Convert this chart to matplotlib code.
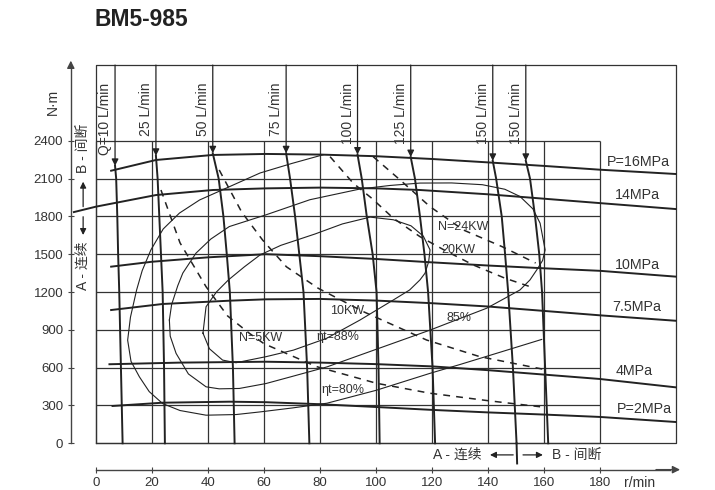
import matplotlib.pyplot as plt

plt.rcParams['font.family'] = ['Liberation Sans', 'Noto Sans CJK SC', 'DejaVu Sans']

ink = '#222222'
txt = '#333333'

title = "BM5-985"
speed_ticks = [0, 20, 40, 60, 80, 100, 120, 140, 160, 180]
torque_ticks = [0, 300, 600, 900, 1200, 1500, 1800, 2100, 2400]
box_right = 207
box_top = 3000

# --- constant pressure lines (r/min, N.m) ---
p16_n = [5.4, 21.4, 41.7, 60.7, 80, 100, 120, 140, 160, 180, 207]
p16_t = [2162, 2247, 2287, 2295, 2290, 2277, 2255, 2228, 2200, 2170, 2136]
p14_n = [-7.9, 0, 21.4, 41.7, 60.7, 80, 100, 115.7, 140, 160, 180, 207]
p14_t = [1834, 1877, 1969, 2009, 2022, 2028, 2022, 2009, 1975, 1940, 1905, 1858]
p10_n = [5.4, 20, 40, 60.7, 80, 100, 119.3, 140, 160, 180, 207]
p10_t = [1401, 1440, 1475, 1500, 1484, 1462, 1436, 1410, 1388, 1368, 1322]
p75_n = [5.4, 23.8, 47.6, 60.7, 80, 100, 119.3, 140, 160, 180, 207]
p75_t = [1057, 1105, 1131, 1142, 1145, 1132, 1112, 1085, 1050, 1015, 972]
p4_n = [4.8, 30, 60.7, 80, 100, 120, 140, 160, 180, 207]
p4_t = [627, 640, 647, 640, 628, 610, 580, 545, 510, 444]
p2_n = [5.9, 23.8, 47.6, 60.7, 80, 100, 120, 140, 160, 180, 207]
p2_t = [296, 322, 330, 326, 310, 288, 265, 245, 228, 209, 169]

pressure_labels = ["P=16MPa", "14MPa", "10MPa", "7.5MPa", "4MPa", "P=2MPa"]
pressure_label_n = [193.7, 193.4, 193.4, 193.0, 192.3, 195.7]
pressure_label_t = [2231, 1971, 1415, 1083, 575, 276]

# --- flow lines: speed at tip torque, then at the fixed torque levels ---
flow_labels = ["Q=10 L/min", "25 L/min", "50 L/min", "75 L/min",
               "100 L/min", "125 L/min", "150 L/min", "150 L/min"]
flow_tip = [2200, 2280, 2300, 2300, 2290, 2270, 2240, 2240]
flow_levels = [2100, 1800, 1500, 1200, 600, 0]
flow_speeds = [
    [6.8, 7.2, 7.6, 7.9, 8.3, 8.9, 9.5],
    [21.4, 22.0, 22.6, 23.2, 23.8, 24.3, 24.6],
    [41.7, 43.8, 45.5, 46.7, 47.8, 48.9, 49.5],
    [67.9, 69.3, 71.1, 72.6, 74.1, 75.4, 76.2],
    [93.4, 94.9, 96.7, 98.8, 100.2, 100.9, 101.3],
    [112.4, 113.9, 115.7, 117.3, 118.6, 120.2, 121.1],
    [141.7, 142.9, 144.9, 146.1, 147.2, 148.9, 150.2],
    [153.5, 155.0, 156.8, 158.3, 159.3, 160.4, 161.5],
]

# --- constant power lines (dashed) ---
kw5_n = [23.2, 30.0, 39.3, 47.0, 54.8, 60.0, 78.8, 100.2, 119.3, 140.0, 158.6]
kw5_t = [2009, 1590, 1242, 1010, 872, 790, 608, 476, 397, 338, 290]
kw10_n = [44.0, 52.0, 59.5, 68.0, 79.4, 95.5, 118.1, 137.1, 159.8]
kw10_t = [2168, 1835, 1612, 1400, 1229, 1044, 819, 687, 587]
kw20_n = [83.6, 91.9, 98.5, 106.2, 115.7, 125.0, 134.8, 146.0, 156.0]
kw20_t = [2273, 2062, 1943, 1785, 1639, 1525, 1414, 1310, 1235]
kw24_n = [99.0, 108.6, 119.3, 131.2, 145.0, 157.0]
kw24_t = [2273, 2089, 1877, 1692, 1560, 1430]

# --- total efficiency contours ---
eff88_n = [38.2, 39.3, 43, 47.3, 53, 58.6, 66, 78.2, 88, 97.9, 106.2, 112.5, 116.9,
           119.3, 118.8, 117.5, 115.7, 112, 106.2, 94.3, 82.4, 70.5, 60.7, 50, 45.2,
           40.5, 38.2]
eff88_t = [874, 1083, 1200, 1296, 1400, 1494, 1570, 1660, 1740, 1794, 1773, 1725, 1643,
           1534, 1440, 1349, 1296, 1216, 1137, 978, 833, 739, 687, 639, 660,
           750, 874]
eff85_n = [26.2, 27, 29.2, 31, 35.7, 41, 47.6, 60.7, 76.4, 94.3, 105, 115.7, 127, 138,
           146, 151.4, 156, 158.6, 160.4, 159.5, 157.4, 155, 151.4, 146, 139.5, 130,
           119.3, 100, 82.5, 70, 60.7, 51.2, 44, 39.3, 33, 28.6, 26.5, 26.2]
eff85_t = [978, 1100, 1250, 1350, 1508, 1620, 1719, 1812, 1932, 2017, 2045, 2064, 2065,
           2051, 2015, 1958, 1860, 1746, 1534, 1450, 1375, 1296, 1216, 1150, 1071, 990,
           898, 745, 606, 530, 474, 435, 432, 448, 550, 713, 850, 978]
eff80_n = [81.2, 70, 58.6, 45.2, 37, 29.8, 24, 19.6, 16.5, 14.5, 12.3, 11.3, 12.5, 15.5,
           19, 23.8, 30, 39.3, 50, 58.6, 70, 82.5, 100, 119.3, 130, 145, 159.2]
eff80_t = [2289, 2220, 2144, 2011, 1930, 1826, 1700, 1534, 1370, 1216, 1000, 818, 650,
           527, 410, 315, 260, 223, 228, 249, 280, 318, 420, 555, 625, 727, 824]

fig = plt.figure(figsize=(7.15, 4.9), dpi=100)
ax = fig.add_axes([0, 0, 1, 1])
ax.set_xlim(-34.29, 221.07)
ax.set_ylim(-370.4, 3516)

# offset axes with arrows
for s in ['top', 'right']:
    ax.spines[s].set_visible(False)
ax.spines['left'].set_position(('data', -9.0))
ax.spines['left'].set_bounds(0, 3000)
ax.spines['bottom'].set_position(('data', -209))
ax.spines['bottom'].set_bounds(0, 205)
for s in ['left', 'bottom']:
    ax.spines[s].set_color('#444444')
    ax.spines[s].set_linewidth(1.0)
ax.set_xticks(speed_ticks)
ax.set_yticks(torque_ticks)
ax.tick_params(direction='inout', length=5, width=0.8, colors='#444444',
               labelcolor=txt, labelsize=9.5)
ax.tick_params(axis='y', pad=3)
ax.tick_params(axis='x', pad=3)
arrow_kw = dict(arrowstyle='-|>', color='#444444', lw=1.0, mutation_scale=11,
                shrinkA=0, shrinkB=0)
ax.annotate('', xy=(-9.0, 3035), xytext=(-9.0, 2980), arrowprops=arrow_kw)
ax.annotate('', xy=(208.6, -209), xytext=(200, -209), arrowprops=arrow_kw)
ax.text(-15.4, 2707, "N·m", rotation=90, ha='center', va='center', fontsize=10, color=txt)
ax.text(194.3, -318, "r/min", ha='center', va='center', fontsize=10, color=txt)

ax.text(-0.4, 3365, title, ha='left', va='center', fontsize=16.5,
        fontweight='bold', color='#222222')

# grid and frame
ax.vlines(speed_ticks, 0, 2400, color='#333333', lw=0.9)
ax.hlines(torque_ticks, 0, 180, color='#333333', lw=0.9)
ax.plot([0, box_right, box_right, 0, 0], [0, 0, box_top, box_top, 0],
        color='#333333', lw=0.9)

# efficiency contours
for n, t in [(eff88_n, eff88_t), (eff85_n, eff85_t), (eff80_n, eff80_t)]:
    ax.plot(n, t, color=ink, lw=0.8, solid_joinstyle='round')

# power lines
for n, t in [(kw5_n, kw5_t), (kw10_n, kw10_t), (kw20_n, kw20_t), (kw24_n, kw24_t)]:
    ax.plot(n, t, color=ink, lw=1.1, linestyle=(0, (4.5, 4)))

# pressure lines
for n, t in [(p16_n, p16_t), (p14_n, p14_t), (p10_n, p10_t),
             (p75_n, p75_t), (p4_n, p4_t), (p2_n, p2_t)]:
    ax.plot(n, t, color=ink, lw=1.4, solid_joinstyle='round')
for lab, x, y in zip(pressure_labels, pressure_label_n, pressure_label_t):
    ax.text(x, y, lab, ha='center', va='center', fontsize=10.3, color=txt)

# flow lines with arrows
for lab, tip, sp in zip(flow_labels, flow_tip, flow_speeds):
    ax.plot(sp, [tip] + flow_levels, color=ink, lw=1.4, solid_joinstyle='round')
    ax.annotate('', xy=(sp[0], tip), xytext=(sp[0], box_top),
                arrowprops=dict(arrowstyle='-|>', color=ink, lw=0.9,
                                mutation_scale=10, shrinkA=0, shrinkB=0))
    ax.text(sp[0] - 3.5, 2860, lab, rotation=90, ha='center', va='top',
            fontsize=10, color=txt)

# divider of continuous / intermittent zone below the chart
ax.plot([flow_speeds[6][-1], 150.4], [0, -160], color=ink, lw=1.4)

# region notes
note_kw = dict(fontsize=10, color=txt, va='center', ha='center')
small_arrow = dict(arrowstyle='-|>', color=ink, lw=0.9, mutation_scale=9,
                   shrinkA=0, shrinkB=0)
ax.text(129, -92, "A - 连续", **note_kw)
ax.text(171.8, -92, "B - 间断", **note_kw)
ax.annotate('', xy=(140.7, -92), xytext=(149.0, -92), arrowprops=small_arrow)
ax.annotate('', xy=(159.6, -92), xytext=(152.5, -92), arrowprops=small_arrow)
ax.text(-4.6, 2342, "B - 间断", rotation=90, **note_kw)
ax.text(-4.6, 1407, "A - 连续", rotation=90, **note_kw)
ax.annotate('', xy=(-4.6, 2075), xytext=(-4.6, 1877), arrowprops=small_arrow)
ax.annotate('', xy=(-4.6, 1652), xytext=(-4.6, 1797), arrowprops=small_arrow)

# curve labels
lab_kw = dict(fontsize=9, color=txt, va='center', ha='left')
ax.text(51, 835, "N=5KW", **lab_kw)
ax.text(83.6, 1049, "10KW", **lab_kw)
ax.text(123.5, 1534, "20KW", **lab_kw)
ax.text(122.1, 1714, "N=24KW", **lab_kw)
ax.text(78.8, 843, "ηt=88%", **lab_kw)
ax.text(125.2, 994, "85%", **lab_kw)
ax.text(80.6, 423, "ηt=80%", **lab_kw)

fig.savefig("out.png", dpi=100, facecolor='white')
